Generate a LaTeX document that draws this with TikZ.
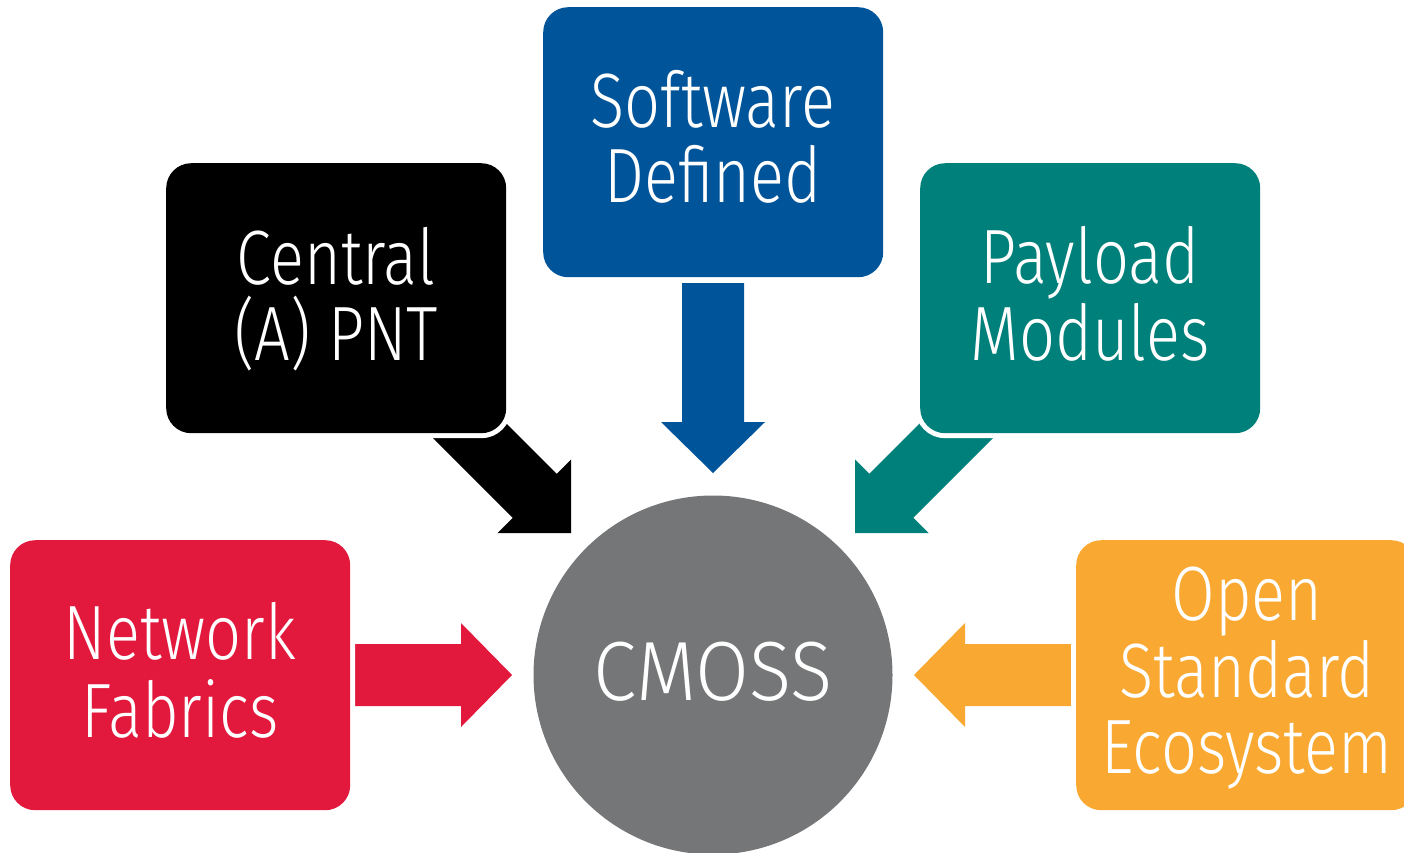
\documentclass[tikz,border=0pt]{standalone}
\usepackage{fontspec}
\setmainfont{Fira Sans Light}[FakeStretch=0.82]
\newfontfamily\cmossfont{Fira Sans Light}[FakeStretch=0.93]
\definecolor{cblue}{HTML}{00549A}
\definecolor{cblack}{HTML}{000000}
\definecolor{cteal}{HTML}{00807A}
\definecolor{cred}{HTML}{E2183D}
\definecolor{corange}{HTML}{F9A831}
\definecolor{cgray}{HTML}{757677}
\begin{document}
\begin{tikzpicture}[x=1pt,y=-1pt,
  box/.style={rectangle, rounded corners=25pt, minimum width=340pt, minimum height=270pt,
    inner sep=0pt, anchor=north west, preaction={draw=white, line width=10pt}},
  lbl/.style={text=white, font=\fontsize{77}{80}\selectfont, anchor=base, inner sep=0pt},
  big/.style={text=white, font=\cmossfont\fontsize{84}{88}\selectfont, anchor=base, inner sep=0pt}]
\useasboundingbox (0,0) rectangle (1404,852);
\clip (0,0) rectangle (1404,852);
% arrows
\fill[cblue] (713,473) -- (661,422) -- (682,422) -- (682,283) -- (744,283) -- (744,422) -- (765,422) -- cycle;
\fill[cred] (512,675) -- (461,623) -- (461,644) -- (355,644) -- (355,706) -- (461,706) -- (461,727) -- cycle;
\fill[corange] (914,675) -- (965,623) -- (965,644) -- (1071,644) -- (1071,706) -- (965,706) -- (965,727) -- cycle;
\fill[cblack] (397.5,402.5) -- (512.75,517.75) -- (497.5,533) -- (571,533) -- (571,459.5) -- (556.75,473.75) -- (441.5,358.5) -- cycle;
\fill[cteal] (1028.5,402.5) -- (913.25,517.75) -- (928.5,533) -- (855,533) -- (855,459.5) -- (869.25,473.75) -- (984.5,358.5) -- cycle;
% boxes
\node[box, fill=cblue] (sw) at (543,7) {};
\node[box, fill=cblack] (pnt) at (166,163) {};
\node[box, fill=cteal] (pay) at (920,163) {};
\node[box, fill=cred] (net) at (10,540) {};
\node[box, fill=corange] (open) at (1076,540) {};
\node[circle, fill=cgray, minimum size=359pt, inner sep=0pt] (cmoss) at (713,675) {};
% labels
\node[lbl] (sw1) at (713,127) {Software};
\node[lbl] (sw2) at (713,202) {Defined};
\node[lbl] (pnt1) at (336,284) {Central};
\node[lbl] (pnt2) at (336,360) {(A) PNT};
\node[lbl] (pay1) at (1090,283) {Payload};
\node[lbl] (pay2) at (1090,360) {Modules};
\node[lbl] (net1) at (180,659) {Network};
\node[lbl] (net2) at (180,737) {Fabrics};
\node[lbl] (open1) at (1247,620) {Open};
\node[lbl] (open2) at (1247,697) {Standard};
\node[lbl] (open3) at (1247,773) {Ecosystem};
\node[big] (cm) at (713,700) {CMOSS};
\end{tikzpicture}
\end{document}
